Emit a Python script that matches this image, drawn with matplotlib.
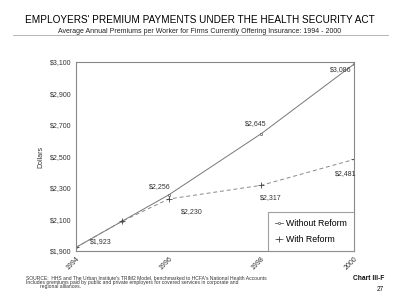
import matplotlib
matplotlib.use("Agg")
import matplotlib.pyplot as plt

# data
years = [1994, 1995, 1996, 1998, 2000]
without_reform = [1923, 2090, 2256, 2645, 3086]
with_reform = [1923, 2090, 2230, 2317, 2481]
label_years = [1994, 1996, 1998, 2000]
yticks = [1900, 2100, 2300, 2500, 2700, 2900, 3100]

plt.rcParams['font.family'] = ['Liberation Sans', 'DejaVu Sans']

fig = plt.figure(figsize=(4, 3.05), dpi=100)
ax = fig.add_axes([0.19, 0.177, 0.695, 0.62])

ax.plot(years, without_reform, '-', color='#777777', lw=0.7, marker='o', ms=1.6,
        mfc='white', mec='#555555', mew=0.5, label='Without Reform')
ax.plot(years, with_reform, '--', color='#888888', lw=0.7, dashes=(4, 3), marker='+',
        ms=5, mec='#444444', mew=0.6, label='With Reform')

ax.set_xlim(1994, 2000)
ax.set_ylim(1900, 3100)
ax.set_xticks(label_years)
ax.set_xticklabels([str(y) for y in label_years], rotation=45, ha='right', va='top',
                   fontsize=5, color='#333333', rotation_mode='anchor')
ax.set_yticks(yticks)
ax.set_yticklabels(['${:,}'.format(v) for v in yticks], fontsize=5, color='#333333')
ax.tick_params(length=0, pad=3)
for s in ax.spines.values():
    s.set_color('#888888')
    s.set_linewidth(0.8)
ax.set_ylabel('Dollars', fontsize=5, color='#333333', labelpad=4)

fs = 5
ax.annotate('$1,923', (1994, 1923), xytext=(10, 3), textcoords='offset points', fontsize=fs, color='#333333')
ax.annotate('$2,256', (1996, 2256), xytext=(-14, 5), textcoords='offset points', fontsize=fs, color='#333333')
ax.annotate('$2,230', (1996, 2230), xytext=(9, -10), textcoords='offset points', fontsize=fs, color='#333333')
ax.annotate('$2,645', (1998, 2645), xytext=(-12, 6), textcoords='offset points', fontsize=fs, color='#333333')
ax.annotate('$3,086', (2000, 3086), xytext=(-17, -5), textcoords='offset points', fontsize=fs, color='#333333')
ax.annotate('$2,317', (1998, 2317), xytext=(-1, -10), textcoords='offset points', fontsize=fs, color='#333333')
ax.annotate('$2,481', (2000, 2481), xytext=(-14, -11), textcoords='offset points', fontsize=fs, color='#333333')

leg = ax.legend(loc='lower right', fontsize=6.3, frameon=True, fancybox=False,
                borderaxespad=0, handlelength=0.9, handletextpad=0.4,
                borderpad=0.8, labelspacing=0.8)
leg.get_frame().set_edgecolor('#888888')
leg.get_frame().set_linewidth(0.8)

fig.text(0.5, 0.925, "EMPLOYERS' PREMIUM PAYMENTS UNDER THE HEALTH SECURITY ACT",
         ha='center', fontsize=7.2, color='#000000')
fig.text(0.5, 0.892, "Average Annual Premiums per Worker for Firms Currently Offering Insurance: 1994 - 2000",
         ha='center', fontsize=5, color='#222222')
fig.add_artist(plt.Line2D([0.033, 0.97], [0.885, 0.885], transform=fig.transFigure,
                          color='#aaaaaa', lw=0.6))

fig.text(0.065, 0.085, "SOURCE:  HHS and The Urban Institute's TRIM2 Model, benchmarked to HCFA's National Health Accounts",
         fontsize=3.6, color='#333333')
fig.text(0.065, 0.07, "Includes premiums paid by public and private employers for covered services in corporate and",
         fontsize=3.6, color='#333333')
fig.text(0.10, 0.055, "regional alliances.", fontsize=3.6, color='#333333')
fig.text(0.96, 0.082, "Chart III-F", ha='right', fontsize=4.8, color='#111111', fontweight='bold')
fig.text(0.96, 0.045, "27", ha='right', fontsize=4.8, color='#111111')

fig.savefig('out.png', dpi=100)
